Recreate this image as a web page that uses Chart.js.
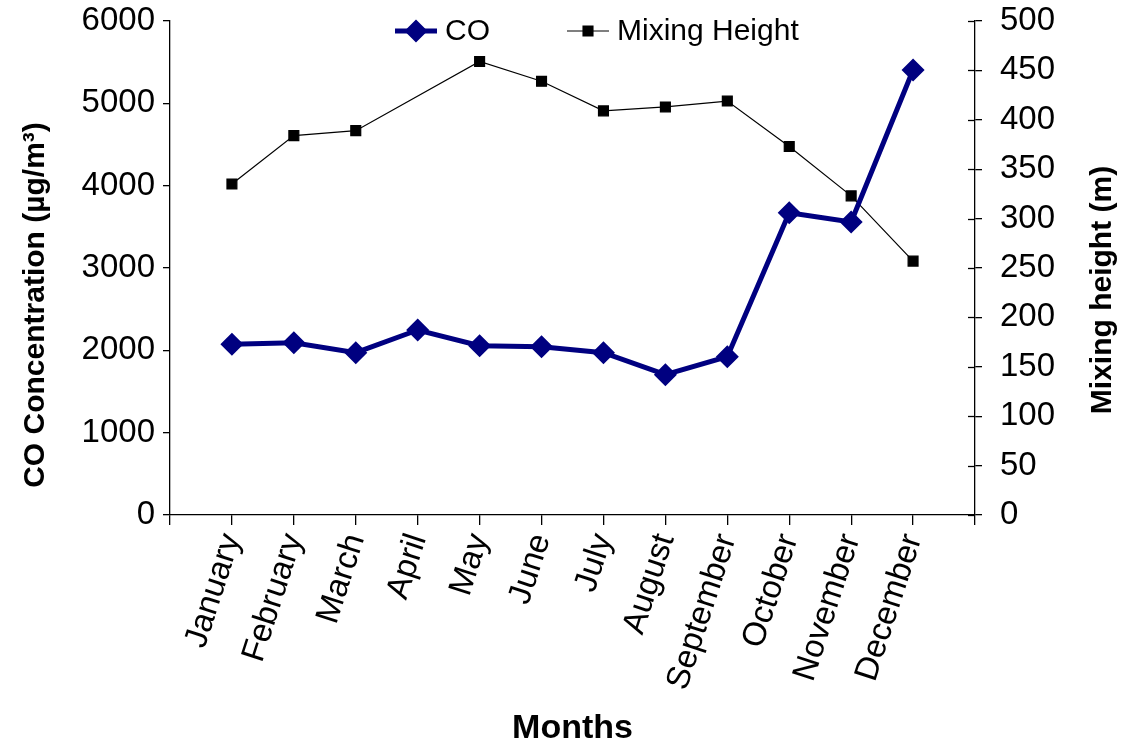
<!DOCTYPE html>
<html>
<head>
<meta charset="utf-8">
<script src="https://cdn.jsdelivr.net/npm/chart.js@4.4.1/dist/chart.umd.min.js"></script>
<style>
  html, body { margin: 0; padding: 0; background: #fff; }
  canvas { display: block; }
</style>
</head>
<body>
<canvas id="grafica" width="1126" height="749"></canvas>
<script>
// datos
const months = ["January", "February", "March", "April", "May", "June",
  "July", "August", "September", "October", "November", "December"];
const coValues = [2073, 2093, 1971, 2247, 2056, 2044, 1971, 1704, 1923, 3672, 3559, 5405];
const mixingHeight = [335, 384, 389, null, 459, 439, 409, 413, 419, 373, 323, 257];

const FONT = "'Liberation Sans', Arial, sans-serif";

// leyenda dibujada dentro del area (linea + marcador)
const legendInside = {
  id: "legendInside",
  afterDraw(chart) {
    const ctx = chart.ctx;
    const y = chart.chartArea.top + 10;
    let x = chart.chartArea.left + 225;
    ctx.save();
    ctx.font = "30px " + FONT;
    ctx.textBaseline = "middle";
    ctx.textAlign = "left";
    chart.data.datasets.forEach(ds => {
      ctx.strokeStyle = ds.borderColor;
      ctx.lineWidth = ds.borderWidth;
      ctx.beginPath();
      ctx.moveTo(x, y);
      ctx.lineTo(x + 42, y);
      ctx.stroke();
      Chart.helpers.drawPoint(ctx, {
        pointStyle: ds.pointStyle, radius: ds.pointRadius, borderWidth: 1
      }, x + 21, y);
      ctx.fillStyle = ds.pointBackgroundColor;
      ctx.fill();
      ctx.fillStyle = "#000";
      ctx.fillText(ds.label, x + 50, y + 1);
      x += 50 + ctx.measureText(ds.label).width + 77;
    });
    ctx.restore();
  }
};

// titulos de los ejes verticales (de abajo hacia arriba) y marcas cruzadas
const axisExtras = {
  id: "axisExtras",
  afterDraw(chart) {
    const ctx = chart.ctx;
    const s = chart.scales.y1;
    ctx.save();
    ctx.strokeStyle = "#000";
    ctx.lineWidth = 1.3;
    s.ticks.forEach(t => {
      const py = Math.round(s.getPixelForValue(t.value)) + 0.5;
      ctx.beginPath();
      ctx.moveTo(s.left - 7, py);
      ctx.lineTo(s.left, py);
      ctx.stroke();
    });
    ctx.font = "bold 30px " + FONT;
    ctx.fillStyle = "#000";
    ctx.textAlign = "center";
    ctx.textBaseline = "middle";
    const titles = [
      ["CO Concentration (µg/m³)", 36, 305],
      ["Mixing height (m)", 1103, 290]
    ];
    titles.forEach(([txt, tx, ty]) => {
      ctx.save();
      ctx.translate(tx, ty);
      ctx.rotate(-Math.PI / 2);
      ctx.fillText(txt, 0, 0);
      ctx.restore();
    });
    ctx.restore();
  }
};

// ancho fijo de los ejes verticales, sin relleno extra arriba/abajo
const fixWidth = w => s => {
  s.width = w;
  s.paddingTop = 0;
  s.paddingBottom = 0;
};

const ctx = document.getElementById("grafica").getContext("2d");

new Chart(ctx, {
  type: "line",
  data: {
    datasets: [
      {
        label: "CO",
        data: coValues.map((v, i) => ({ x: i + 1, y: v })),
        yAxisID: "y",
        borderColor: "#000080",
        backgroundColor: "#000080",
        pointBackgroundColor: "#000080",
        pointBorderColor: "#000080",
        borderWidth: 5,
        pointStyle: "rectRot",
        pointRadius: 8,
        tension: 0
      },
      {
        label: "Mixing Height",
        data: mixingHeight.map((v, i) => ({ x: i + 1, y: v })),
        yAxisID: "y1",
        borderColor: "#000",
        backgroundColor: "#000",
        pointBackgroundColor: "#000",
        pointBorderColor: "#000",
        borderWidth: 1.2,
        pointStyle: "rect",
        pointRadius: 7,
        spanGaps: true,
        tension: 0
      }
    ]
  },
  options: {
    responsive: false,
    animation: false,
    devicePixelRatio: 1,
    layout: { padding: { top: 21, left: 0, right: 0, bottom: 0 } },
    plugins: {
      legend: { display: false },
      tooltip: { enabled: false }
    },
    scales: {
      x: {
        type: "linear",
        min: 0,
        max: 13,
        afterFit: s => { s.height = 234; s.paddingLeft = 0; s.paddingRight = 0; },
        ticks: {
          stepSize: 1,
          autoSkip: false,
          maxRotation: 72,
          minRotation: 72,
          padding: 4,
          color: "#000",
          font: { family: FONT, size: 33 },
          callback: v => months[v - 1] || ""
        },
        grid: { drawOnChartArea: false, tickLength: 10, color: "#000", lineWidth: 1.3 },
        border: { color: "#000", width: 1.3 },
        title: {
          display: true,
          text: "Months",
          color: "#000",
          font: { family: FONT, size: 34, weight: "bold" },
          padding: { top: 0, bottom: 0 }
        }
      },
      y: {
        position: "left",
        min: 0,
        max: 6000,
        afterFit: fixWidth(170),
        ticks: {
          stepSize: 1000,
          padding: 8,
          color: "#000",
          font: { family: FONT, size: 33 },
          callback: v => String(v)
        },
        grid: { drawOnChartArea: false, tickLength: 7, color: "#000", lineWidth: 1.3 },
        border: { color: "#000", width: 1.3 }
      },
      y1: {
        position: "right",
        min: 0,
        max: 500,
        afterFit: fixWidth(151),
        ticks: {
          stepSize: 50,
          padding: 18,
          color: "#000",
          font: { family: FONT, size: 33 },
          callback: v => String(v)
        },
        grid: { drawOnChartArea: false, tickLength: 7, color: "#000", lineWidth: 1.3 },
        border: { color: "#000", width: 1.3 }
      }
    }
  },
  plugins: [legendInside, axisExtras]
});
</script>
</body>
</html>
